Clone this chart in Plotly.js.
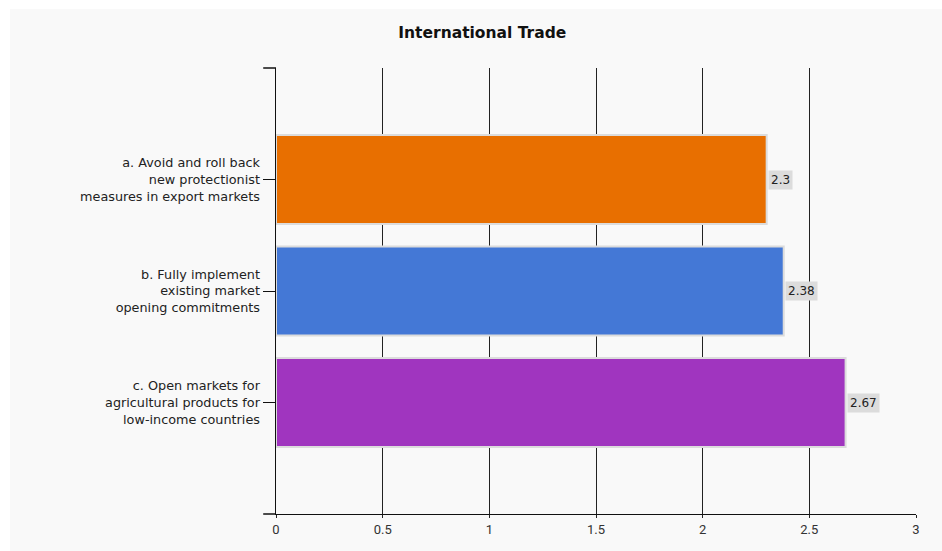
<!DOCTYPE html>
<html>
<head>
<meta charset="utf-8">
<script src="https://cdn.plot.ly/plotly-3.0.1.min.js"></script>
<style>html,body{margin:0;padding:0;background:#fff;}#chart{width:942px;height:551px;}</style>
</head>
<body>
<div id="chart"></div>
<script>
const categories = [
  "a. Avoid and roll back<br>new protectionist<br>measures in export markets",
  "b. Fully implement<br>existing market<br>opening commitments",
  "c. Open markets for<br>agricultural products for<br>low-income countries"
];
const values = [2.3, 2.38, 2.67];
const barColors = ["#e86f00", "#4478d6", "#a035bf"];
const xTicks = [0, 0.5, 1, 1.5, 2, 2.5, 3];
const xTickLabels = ["0", "0.5", "1", "1.5", "2", "2.5", "3"];

const trace = {
  type: "bar",
  orientation: "h",
  x: values,
  y: categories,
  width: 0.8,
  marker: {color: barColors, line: {color: "#dcdcdc", width: 2}},
  hoverinfo: "x+y"
};

const annotations = values.map((v, i) => ({
  x: v, y: categories[i], xref: "x", yref: "y",
  text: String(v), showarrow: false, xanchor: "left", yanchor: "middle",
  xshift: 1, bgcolor: "#dcdcdc", borderpad: 2,
  font: {family: "DejaVu Sans", size: 12, color: "#222"}
}));

const layout = {
  width: 942, height: 551,
  margin: {l: 276, r: 26, t: 68, b: 37},
  paper_bgcolor: "#f9f9f9",
  plot_bgcolor: "#f9f9f9",
  title: {text: "<b>International Trade</b>", x: 0.512, xref: "container", xanchor: "center",
          y: 0.94, yref: "container", yanchor: "middle",
          font: {family: "DejaVu Sans", size: 15.5, color: "#111"}},
  xaxis: {range: [0, 3], tickvals: xTicks, ticktext: xTickLabels,
          showgrid: true, gridcolor: "#222", gridwidth: 1,
          showline: true, linecolor: "#111", linewidth: 1,
          ticks: "outside", ticklen: 3, tickcolor: "#222", tickwidth: 1,
          zeroline: false, fixedrange: true,
          tickfont: {family: "Roboto", size: 13, color: "#333"}},
  yaxis: {type: "category", range: [3, -1], showgrid: false,
          showline: true, linecolor: "#111", linewidth: 1.5,
          ticks: "outside", ticklen: 12, tickcolor: "#111", tickwidth: 1,
          zeroline: false, fixedrange: true,
          tickfont: {family: "DejaVu Sans", size: 12.8, color: "#222"}},
  showlegend: false,
  annotations: annotations,
  shapes: [
    {type: "rect", xref: "paper", yref: "paper", x0: -0.45, x1: -0.4156, y0: -0.1, y1: 1.2,
     fillcolor: "#fff", line: {width: 0}, layer: "below"},
    {type: "rect", xref: "paper", yref: "paper", x0: -0.45, x1: 1.1, y0: 1.1323, y1: 1.2,
     fillcolor: "#fff", line: {width: 0}, layer: "below"},
    {type: "line", xref: "paper", yref: "paper", x0: -0.02, x1: 0, y0: 1, y1: 1,
     line: {color: "#111", width: 1.5}},
    {type: "line", xref: "paper", yref: "paper", x0: -0.02, x1: 0, y0: 0, y1: 0,
     line: {color: "#111", width: 1.5}}
  ]
};

Plotly.newPlot("chart", [trace], layout, {displayModeBar: false, staticPlot: true});
</script>
</body>
</html>
